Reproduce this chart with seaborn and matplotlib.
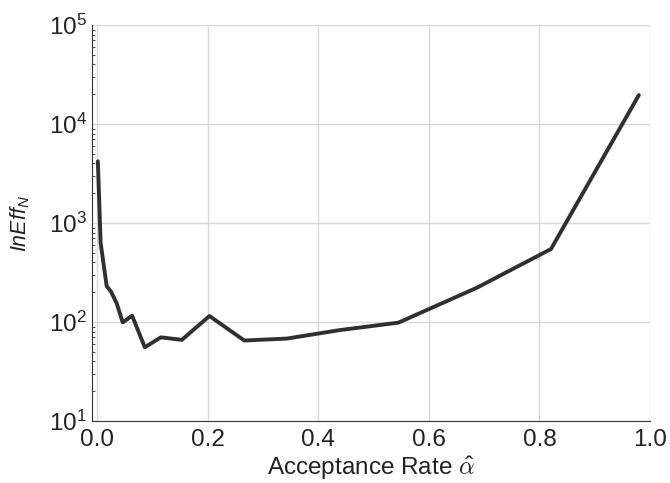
"""
Inefficiency vs. acceptance rate (log scale).
"""

import numpy as np
import pandas as pd
import matplotlib
matplotlib.use('Agg')
import matplotlib.pyplot as plt
import seaborn as sns

# Data
acceptance = [0.001, 0.006, 0.017, 0.025, 0.035, 0.046, 0.063, 0.086, 0.115,
              0.153, 0.203, 0.266, 0.343, 0.44, 0.545, 0.687, 0.821, 0.98]
ineff = [4200, 630, 230, 202, 155, 99, 116, 55.5, 70,
         66, 115, 65, 68, 83, 98.5, 222, 546, 19600]

x_ticks = [0.0, 0.2, 0.4, 0.6, 0.8, 1.0]
y_ticks = [1e1, 1e2, 1e3, 1e4, 1e5]

df = pd.DataFrame({'alpha': acceptance, 'ineff': ineff})

sns.set_style('whitegrid', {'axes.edgecolor': '#333333',
                            'grid.color': '#d9d9d9',
                            'axes.linewidth': 1.3})
plt.rcParams['font.family'] = ['Liberation Sans', 'DejaVu Sans']
plt.rcParams['mathtext.fontset'] = 'custom'
plt.rcParams['mathtext.rm'] = 'Liberation Sans'
plt.rcParams['mathtext.it'] = 'Liberation Sans:italic'
plt.rcParams['mathtext.default'] = 'regular'

fig = plt.figure(figsize=(6.7, 4.83), dpi=100)
ax = fig.add_axes([0.1378, 0.1284, 0.8322, 0.8198])

sns.lineplot(data=df, x='alpha', y='ineff', color='#303030', linewidth=2.8, ax=ax)

ax.set_yscale('log')
ax.set_xlim(-0.009, 1.0)
ax.set_ylim(1e1, 1e5)
ax.set_xticks(x_ticks)
ax.set_xticklabels([f'{t:.1f}' for t in x_ticks])
ax.set_yticks(y_ticks)
ax.tick_params(axis='both', which='major', labelsize=17.5, length=0,
               labelcolor='#222222')
ax.tick_params(axis='x', which='major', pad=6)
ax.tick_params(axis='y', which='major', pad=4)
ax.tick_params(axis='y', which='minor', left=True, direction='in',
               length=2, width=0.8, color='#555555')
ax.grid(True, which='major', color='#d9d9d9', linewidth=1.0)
ax.grid(False, which='minor')

ax.set_xlabel(r'Acceptance Rate $\hat{\mathit{\alpha}}$', fontsize=17.5,
              labelpad=2, color='#222222', math_fontfamily='cm')
ax.set_ylabel(r'$\mathit{InEff_N}$', fontsize=15.5, labelpad=12,
              color='#222222', math_fontfamily='custom')

sns.despine(ax=ax)

fig.savefig('out.png', dpi=100)
